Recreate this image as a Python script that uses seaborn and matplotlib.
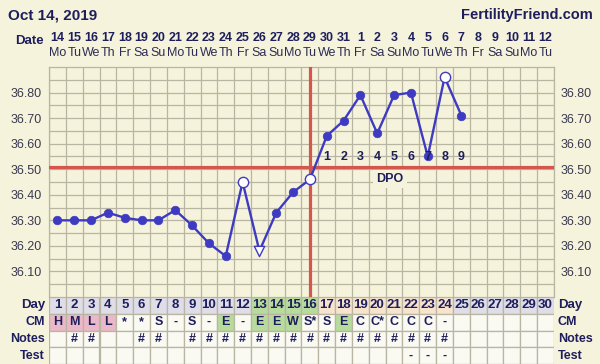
import numpy as np
import matplotlib
matplotlib.use("Agg")
import matplotlib.pyplot as plt
import matplotlib.transforms as mtransforms
import seaborn as sns

# ---------------- data ----------------
days = list(range(1, 31))
dates = [str(d) for d in range(14, 32)] + [str(d) for d in range(1, 13)]
weekdays = ["Mo", "Tu", "We", "Th", "Fr", "Sa", "Su"] * 4 + ["Mo", "Tu"]
temp_days = list(range(1, 26))
temps = [36.30, 36.30, 36.30, 36.33, 36.31, 36.30, 36.30, 36.34, 36.28, 36.21,
         36.16, 36.45, 36.18, 36.33, 36.41, 36.46, 36.63, 36.69, 36.79, 36.64,
         36.79, 36.80, 36.55, 36.86, 36.71]
open_circle_days = [12, 16, 24]
open_triangle_days = [13]
coverline = 36.51
ovulation_day = 16
dpo_days = list(range(17, 26))
dpo_labels = [str(i) for i in range(1, 10)]
y_ticks = [36.10, 36.20, 36.30, 36.40, 36.50, 36.60, 36.70, 36.80]
cm = ["H", "M", "L", "L", "*", "*", "S", "-", "S", "-", "E", "-", "E", "E", "W",
      "S*", "S", "E", "C", "C*", "C", "C", "C", "-"] + [""] * 6
notes = ["", "#", "#", "", "", "#", "#", "", "#"] + ["#"] * 15 + [""] * 6
test = [""] * 21 + ["-", "-", "-"] + [""] * 6
day_cell_kind = ["gray"] * 12 + ["green"] * 4 + ["peach"] * 8 + ["gray"] * 6
cm_cell_kind = ["pink"] * 4 + ["white"] * 6 + ["green"] + ["white"] + ["green"] * 3 + \
               ["white"] * 2 + ["green"] + ["white"] * 12
row_names = ["Day", "CM", "Notes", "Test"]

# ---------------- style ----------------
sns.set_theme(style="white")
plt.rcParams["font.family"] = ["Liberation Sans", "DejaVu Sans"]

bg = "#F6F3DD"
grid_col = "#B8B5A2"
blue = "#3E3BC2"
red = "#D4574E"
navy = "#1E1E5C"
tick_col = "#3A3A50"
cell_colors = {"gray": "#DEDDE8", "green": "#B7DB9A", "peach": "#F8E3CD",
               "pink": "#EBB8C8", "white": "#FAF9F2"}

W, H = 600, 364
fig = plt.figure(figsize=(W / 100, H / 100), dpi=100, facecolor=bg)

# main temperature axes
ax = fig.add_axes([49 / W, 1 - 297 / H, 505 / W, 230 / H])
ax.set_facecolor(bg)
ax.set_xlim(0.5, 30.5)
ax.set_ylim(36.00, 36.90)
ax.set_xticks([])
ax.set_xticks(np.arange(0.5, 31, 1), minor=True)
ax.set_yticks(y_ticks)
ax.set_yticklabels([f"{t:.2f}" for t in y_ticks])
ax.set_yticks(np.arange(36.05, 36.9, 0.1), minor=True)
ax.grid(True, which="both", color=grid_col, lw=0.9)
ax.set_axisbelow(True)
ax.tick_params(axis="y", which="both", length=0, labelleft=True, labelright=True,
               labelsize=9, labelcolor=tick_col, pad=5)
ax.tick_params(axis="x", which="both", length=0)
for s in ax.spines.values():
    s.set_color(grid_col)
    s.set_linewidth(0.9)

ax.axhline(coverline, color=red, lw=2.3, zorder=3)
ax.axvline(ovulation_day, color=red, lw=2.3, zorder=3)

sns.lineplot(x=temp_days, y=temps, ax=ax, color=blue, lw=1.7, zorder=4)
filled_x = [d for d in temp_days if d not in open_circle_days + open_triangle_days]
filled_y = [temps[d - 1] for d in filled_x]
sns.scatterplot(x=filled_x, y=filled_y, ax=ax, s=38, color=blue, edgecolor=blue,
                linewidth=0.5, zorder=5)
sns.scatterplot(x=open_circle_days, y=[temps[d - 1] for d in open_circle_days], ax=ax,
                s=55, facecolor="white", edgecolor=blue, linewidth=1.0, zorder=5)
sns.scatterplot(x=open_triangle_days, y=[temps[d - 1] for d in open_triangle_days], ax=ax,
                s=55, marker="v", facecolor="white", edgecolor=blue, linewidth=1.0, zorder=5)
ax.set_xlabel("")
ax.set_ylabel("")

for d, lab in zip(dpo_days, dpo_labels):
    ax.text(d, 36.549, lab, ha="center", va="center", fontsize=9, fontweight="bold",
            color=navy, zorder=6)
ax.text(20.75, 36.462, "DPO", ha="center", va="center", fontsize=9, fontweight="bold",
        color=navy, zorder=6,
        bbox=dict(facecolor=bg, edgecolor="none", boxstyle="square,pad=0.25"))

# header
hdr = mtransforms.blended_transform_factory(ax.transData, fig.transFigure)
for d, ds, wd in zip(days, dates, weekdays):
    fig.text(d, 1 - 38 / H, ds, transform=hdr, ha="center", va="center",
             fontsize=9, fontweight="bold", color=navy)
    fig.text(d, 1 - 53 / H, wd, transform=hdr, ha="center", va="center",
             fontsize=9, color="#2C2C55")
fig.text(44 / W, 1 - 41 / H, "Date", ha="right", va="center", fontsize=9.5,
         fontweight="bold", color=navy)
fig.text(8 / W, 1 - 15 / H, "Oct 14, 2019", ha="left", va="center", fontsize=11,
         fontweight="bold", color=navy)
fig.text(593 / W, 1 - 15 / H, "FertilityFriend.com", ha="right", va="center",
         fontsize=10.5, fontweight="bold", color=navy)

# table
tab = fig.add_axes([49 / W, 0, 505 / W, 67 / H])
tab.set_xlim(0.5, 30.5)
tab.set_ylim(4, 0)
tab.axis("off")
rows_kind = [day_cell_kind, cm_cell_kind, ["white"] * 30, ["white"] * 30]
rows_text = [[str(d) for d in days], cm, notes, test]
for r, (kinds, texts) in enumerate(zip(rows_kind, rows_text)):
    tab.bar(days, 1, bottom=r, width=1, color=[cell_colors[k] for k in kinds],
            edgecolor=grid_col, linewidth=0.9, align="center")
    for d, t in zip(days, texts):
        if t:
            tab.text(d, r + 0.5, t, ha="center", va="center",
                     fontsize=9.5 if r == 0 else 9,
                     fontweight="bold", color=navy)
lab_tr = mtransforms.blended_transform_factory(fig.transFigure, tab.transData)
for r, name in enumerate(row_names):
    fig.text(45 / W, r + 0.5, name, transform=lab_tr, ha="right", va="center",
             fontsize=9.5 if r == 0 else 9, fontweight="bold", color=navy)
    fig.text(558 / W, r + 0.5, name, transform=lab_tr, ha="left", va="center",
             fontsize=9.5 if r == 0 else 9, fontweight="bold", color=navy)

fig.savefig("out.png", dpi=100, facecolor=bg)
